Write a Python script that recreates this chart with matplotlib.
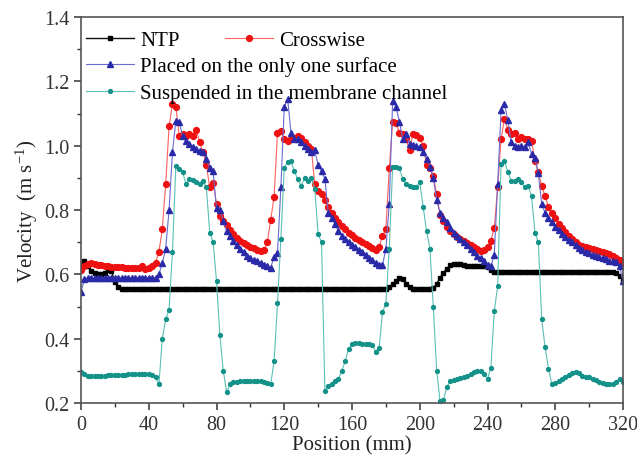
import numpy as np
import matplotlib
matplotlib.use("Agg")
import matplotlib.pyplot as plt

plt.rcParams["font.family"] = ["Liberation Serif", "DejaVu Serif"]
plt.rcParams["mathtext.fontset"] = "stix"

# position along the channel (mm), 2 mm steps
position = np.arange(0, 322, 2)

ntp = [
    0.63, 0.64, 0.625, 0.61, 0.605, 0.60, 0.60, 0.605, 0.615, 0.61,
    0.575, 0.56, 0.555, 0.553, 0.553, 0.553, 0.553, 0.553, 0.553, 0.553,
    0.553, 0.553, 0.553, 0.553, 0.553, 0.553, 0.553, 0.553, 0.553, 0.553,
    0.553, 0.553, 0.553, 0.553, 0.553, 0.553, 0.553, 0.553, 0.553, 0.553,
    0.553, 0.553, 0.553, 0.553, 0.553, 0.553, 0.553, 0.553, 0.553, 0.553,
    0.553, 0.553, 0.553, 0.553, 0.553, 0.553, 0.553, 0.553, 0.553, 0.553,
    0.553, 0.553, 0.553, 0.553, 0.553, 0.553, 0.553, 0.553, 0.553, 0.553,
    0.553, 0.553, 0.553, 0.553, 0.553, 0.553, 0.553, 0.553, 0.553, 0.553,
    0.553, 0.553, 0.553, 0.553, 0.553, 0.553, 0.553, 0.553, 0.553, 0.553,
    0.555, 0.56, 0.57, 0.58, 0.588, 0.585, 0.57, 0.56, 0.555, 0.555,
    0.555, 0.555, 0.555, 0.555, 0.558, 0.57, 0.59, 0.605, 0.618, 0.628,
    0.632, 0.633, 0.633, 0.628, 0.625, 0.625, 0.625, 0.625, 0.625, 0.625,
    0.622, 0.612, 0.608, 0.607, 0.607, 0.607, 0.607, 0.607, 0.607, 0.607,
    0.607, 0.607, 0.607, 0.607, 0.607, 0.607, 0.607, 0.607, 0.607, 0.607,
    0.607, 0.607, 0.607, 0.607, 0.607, 0.607, 0.607, 0.607, 0.607, 0.607,
    0.607, 0.607, 0.607, 0.607, 0.607, 0.607, 0.607, 0.608, 0.605, 0.595,
    0.58,
]

crosswise = [
    0.615, 0.625, 0.632, 0.635, 0.633, 0.63, 0.628, 0.627, 0.625, 0.624,
    0.623, 0.622, 0.622, 0.621, 0.62, 0.62, 0.62, 0.621, 0.625, 0.618,
    0.62, 0.625, 0.635, 0.67, 0.74, 0.88, 1.06, 1.13, 1.12, 1.03,
    1.036, 1.03, 1.035, 1.03, 1.05, 1.01, 0.98, 0.94, 0.87, 0.885,
    0.82, 0.78, 0.765, 0.752, 0.738, 0.725, 0.714, 0.705, 0.698, 0.692,
    0.686, 0.681, 0.677, 0.674, 0.675, 0.70, 0.77, 0.84, 1.04, 1.045,
    1.02, 1.015, 1.02, 1.025, 1.03, 1.025, 1.01, 1.0, 0.99, 0.88,
    0.86, 0.85, 0.83, 0.81, 0.79, 0.775, 0.762, 0.75, 0.74, 0.73,
    0.722, 0.714, 0.707, 0.70, 0.694, 0.688, 0.682, 0.677, 0.685, 0.72,
    0.74, 0.93, 1.075, 1.07, 1.04, 1.036, 1.02, 0.985, 1.036, 1.032,
    1.025, 1.0, 0.94, 0.93, 0.905, 0.85, 0.785, 0.765, 0.748, 0.735,
    0.724, 0.716, 0.709, 0.703, 0.697, 0.691, 0.686, 0.678, 0.673, 0.675,
    0.685, 0.704, 0.745, 0.87, 1.02, 1.083, 1.05, 1.036, 1.04, 1.02,
    1.027, 1.022, 1.02, 1.015, 0.952, 0.918, 0.875, 0.843, 0.81, 0.79,
    0.775, 0.758, 0.745, 0.732, 0.72, 0.71, 0.70, 0.692, 0.688, 0.685,
    0.682, 0.678, 0.676, 0.673, 0.67, 0.667, 0.663, 0.658, 0.652, 0.645,
    0.635,
]

one_surface = [
    0.545, 0.585, 0.59, 0.59, 0.588, 0.589, 0.59, 0.59, 0.59, 0.59,
    0.59, 0.59, 0.59, 0.59, 0.59, 0.59, 0.59, 0.59, 0.59, 0.59,
    0.59, 0.59, 0.59, 0.60, 0.635, 0.68, 0.80, 0.98, 1.078, 1.073,
    1.03, 1.015, 1.005, 0.995, 0.99, 0.983, 0.98, 0.96, 0.93, 0.92,
    0.805, 0.80, 0.765, 0.735, 0.718, 0.703, 0.69, 0.68, 0.668, 0.656,
    0.65, 0.645, 0.64, 0.635, 0.63, 0.626, 0.62, 0.655, 0.665, 0.87,
    1.12, 1.145, 1.04, 1.02, 1.02, 1.01, 1.0, 0.99, 0.98, 0.985,
    0.94, 0.92, 0.896, 0.79, 0.775, 0.755, 0.735, 0.72, 0.71, 0.70,
    0.692, 0.685, 0.677, 0.668, 0.66, 0.652, 0.644, 0.636, 0.63, 0.628,
    0.68, 0.82, 1.14, 1.12, 1.075, 1.02, 1.036, 1.005, 1.002, 1.0,
    0.995, 0.98, 0.96, 0.935, 0.90, 0.83, 0.79, 0.775, 0.763, 0.745,
    0.73, 0.72, 0.71, 0.70, 0.69, 0.68, 0.668, 0.658, 0.65, 0.64,
    0.628, 0.625, 0.66, 0.88, 1.11, 1.13, 1.08, 1.01, 0.998, 0.995,
    1.0, 0.995, 1.01, 0.975, 0.962, 0.915, 0.82, 0.79, 0.775, 0.763,
    0.748, 0.738, 0.726, 0.716, 0.707, 0.70, 0.69, 0.682, 0.675, 0.67,
    0.665, 0.66, 0.657, 0.654, 0.65, 0.647, 0.643, 0.64, 0.638, 0.625,
    0.578,
]

suspended = [
    0.295, 0.29, 0.285, 0.284, 0.284, 0.284, 0.284, 0.285, 0.287, 0.287,
    0.286, 0.287, 0.288, 0.288, 0.289, 0.29, 0.29, 0.29, 0.291, 0.29,
    0.289, 0.287, 0.28, 0.258, 0.40, 0.46, 0.49, 0.67, 0.937, 0.927,
    0.918, 0.88, 0.896, 0.892, 0.888, 0.88, 0.89, 0.87, 0.73, 0.70,
    0.58, 0.41, 0.30, 0.234, 0.258, 0.265, 0.266, 0.267, 0.268, 0.268,
    0.268, 0.268, 0.269, 0.268, 0.266, 0.262, 0.258, 0.33, 0.51, 0.71,
    0.93, 0.95, 0.952, 0.92, 0.896, 0.875, 0.90, 0.89, 0.90, 0.866,
    0.725, 0.70, 0.237, 0.253, 0.26, 0.268, 0.275, 0.30, 0.33, 0.368,
    0.383, 0.385, 0.385, 0.384, 0.383, 0.382, 0.38, 0.36, 0.37, 0.483,
    0.508, 0.68, 0.934, 0.935, 0.93, 0.896, 0.88, 0.875, 0.87, 0.87,
    0.886, 0.81, 0.735, 0.68, 0.50, 0.30, 0.205, 0.21, 0.25, 0.268,
    0.27, 0.275, 0.278, 0.28, 0.284, 0.29, 0.295, 0.298, 0.30, 0.29,
    0.275, 0.31, 0.486, 0.564, 0.943, 0.952, 0.918, 0.89, 0.89, 0.896,
    0.886, 0.87, 0.875, 0.843, 0.73, 0.70, 0.46, 0.374, 0.306, 0.259,
    0.262, 0.268, 0.275, 0.28, 0.288, 0.292, 0.296, 0.292, 0.285, 0.282,
    0.28, 0.275, 0.27, 0.265, 0.262, 0.26, 0.259, 0.26, 0.265, 0.275,
    0.265,
]

fig = plt.figure(figsize=(6.37, 4.6), dpi=100)
ax = fig.add_axes([81 / 637, 1 - 404 / 460, 542 / 637, 386 / 460])

h_ntp, = ax.plot(position, ntp, "-s", color="#111111", lw=1.0, ms=3.2,
                 mec="black", mfc="black", label="NTP")
h_cross, = ax.plot(position, crosswise, "-o", color="#ff6060", lw=0.8, ms=4.2,
                   mec="#ee1111", mfc="#ee1111", label="Crosswise")
h_one, = ax.plot(position, one_surface, "-^", color="#6a6ad0", lw=0.8, ms=4.4,
                 mec="#2a2aa8", mfc="#2a2aa8", label="Placed on the only one surface")
h_sus, = ax.plot(position, suspended, "-o", color="#5cc0b4", lw=0.8, ms=2.8,
                 mec="#14928a", mfc="#14928a", label="Suspended in the membrane channel")

ax.set_xlim(0, 320)
ax.set_ylim(0.2, 1.4)
ax.set_xticks(np.arange(0, 321, 40))
ax.set_xticks(np.arange(20, 321, 40), minor=True)
ax.set_yticks(np.arange(0.2, 1.41, 0.2))
ax.set_yticks(np.arange(0.3, 1.4, 0.2), minor=True)
ax.set_yticklabels([f"{v:.1f}" for v in np.arange(0.2, 1.41, 0.2)])
ax.tick_params(which="major", direction="out", length=5, width=1.1, labelsize=14.5, colors="#333333")
ax.tick_params(which="minor", direction="out", length=3, width=1.0, colors="#333333")
for s in ax.spines.values():
    s.set_color("#555555")
    s.set_linewidth(1.2)

ax.set_xlabel("Position (mm)", fontsize=15, color="#222222", labelpad=1)
ax.set_ylabel("Velocity  (m s$^{\\mathregular{-1}}$)", fontsize=15, color="#222222", labelpad=3)

leg1 = ax.legend(handles=[h_ntp, h_cross], loc="upper left", ncol=2, frameon=False,
                 fontsize=15, numpoints=1, handlelength=2.3, columnspacing=2.2,
                 handletextpad=0.3, bbox_to_anchor=(-0.018, 1.002), borderaxespad=0.3)
ax.add_artist(leg1)
ax.legend(handles=[h_one, h_sus], loc="upper left", frameon=False, fontsize=15,
          numpoints=1, handlelength=2.3, handletextpad=0.3, labelspacing=0.37,
          bbox_to_anchor=(-0.018, 0.937), borderaxespad=0.3)

fig.savefig("out.png", dpi=100)
